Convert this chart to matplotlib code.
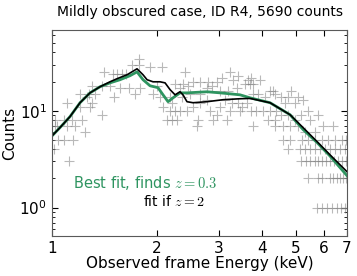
import matplotlib
matplotlib.use("Agg")
import matplotlib.pyplot as plt
from matplotlib.ticker import FixedLocator, FixedFormatter, NullFormatter

plt.rcParams['mathtext.fontset'] = 'cm'

# observed counts per channel (energy in keV, counts)
energia = [
    1.013, 1.020, 1.034, 1.020, 1.040, 1.082, 1.149, 1.082, 1.141, 1.219,
    1.104, 1.164, 1.243, 1.119, 1.104, 1.203, 1.285, 1.203, 1.276, 1.328,
    1.260, 1.302, 1.391, 1.302, 1.391, 1.466, 1.505, 1.409, 1.495, 1.535,
    1.586, 1.630, 1.566, 1.662, 1.729, 1.787, 1.695, 1.775, 1.775,
    1.909, 2.067, 2.405, 2.535, 2.655, 2.799, 3.236, 3.412, 3.301, 3.069,
    2.970, 2.373, 2.453, 2.326, 2.252, 2.485, 2.655, 2.781, 2.874, 3.029,
    3.193, 3.389, 3.573, 3.644, 2.000, 1.947, 2.039, 2.179, 2.358, 2.208,
    2.080, 2.252, 2.326, 2.179, 2.208, 2.136, 2.282, 2.436, 2.535, 2.655,
    2.836, 2.970, 2.893, 2.620, 2.603, 3.172, 3.029, 3.279, 3.412, 3.503,
    3.457, 3.236, 3.620, 3.130, 2.781,
    3.717, 3.945, 3.692, 3.766, 4.213, 4.297, 4.355, 4.840, 4.745, 5.068,
    5.239, 4.530, 4.651, 4.969, 3.766, 3.893, 4.077, 3.717, 3.841, 4.024,
    4.213, 4.383, 4.158, 4.355, 4.530, 4.745, 4.969, 5.169, 3.766, 4.355,
    4.590, 4.808, 5.068, 5.413, 5.485, 5.783, 5.307, 5.670, 5.977, 6.385,
]
cuentas = [
    4, 7, 7, 8, 5, 5, 5, 8, 8, 8,
    7, 7, 6, 3, 12, 11, 11, 15, 15, 15,
    14, 12, 9, 18, 18, 18, 14, 25, 24, 24,
    24, 24, 17, 17, 15, 17, 30, 30, 34,
    28, 28, 25, 20, 20, 20, 25, 23, 21, 22,
    20, 19, 18, 17, 19, 15, 15, 17, 18, 16,
    16, 17, 19, 21, 18, 15, 14, 14, 14, 12,
    11, 10, 10, 10, 8, 8, 8, 10, 11, 12,
    10, 9, 8, 8, 7, 8, 11, 12, 12, 11,
    10, 10, 12, 13, 13,
    22, 21, 19, 19, 16, 16, 15, 16, 14, 14,
    13, 14, 12, 12, 15, 15, 14, 10, 10, 10,
    10, 10, 8, 8, 9, 9, 8, 9, 7, 7,
    7, 7, 7, 10, 8, 9, 6, 6, 7, 7,
]

# low-count rows at the high energy end
e5 = [4.590, 4.808, 5.203, 5.413, 5.670, 5.937, 6.177, 6.470, 6.774, 6.956]
e4 = [4.745, 5.135, 5.307, 5.485, 5.670, 5.860, 6.056, 6.259, 6.470, 6.686, 6.910]
e3 = [5.169, 5.343, 5.485, 5.670, 5.783, 5.937, 6.096, 6.259, 6.427, 6.599, 6.774, 6.956]
e2 = [5.413, 5.783, 5.937, 6.259, 6.385, 6.555, 6.686, 6.819, 6.956]
e1 = [5.745, 5.937, 6.137, 6.343, 6.555, 6.730, 6.910, 6.980]
for e, c in [(e5, 5), (e4, 4), (e3, 3), (e2, 2), (e1, 1)]:
    energia += e
    cuentas += [c] * len(e)

# model: fit if z = 2 (black)
e_z2 = [1.0, 1.054, 1.126, 1.203, 1.285, 1.373, 1.466, 1.535, 1.640, 1.752,
        1.823, 1.872, 1.947, 2.039, 2.108, 2.179, 2.252, 2.326, 2.373, 2.436,
        2.535, 2.781, 3.090, 3.457, 3.692, 4.213, 4.808, 5.239, 5.745, 6.261, 7.0]
c_z2 = [5.5, 6.7, 8.7, 12.1, 15.3, 17.7, 19.9, 21.4, 23.5, 27.1,
        23.5, 20.9, 19.9, 19.9, 19.4, 16.5, 14.6, 15.7, 14.6, 12.4,
        12.1, 12.4, 13.0, 13.3, 13.4, 12.1, 9.1, 6.7, 4.8, 3.5, 2.35]

# model: best fit, z = 0.3 (green)
e_best = [1.0, 1.054, 1.126, 1.203, 1.285, 1.373, 1.466, 1.566, 1.673, 1.752,
          1.823, 1.909, 2.012, 2.080, 2.150, 2.222, 2.326, 2.436, 2.781, 3.029,
          3.457, 3.692, 4.213, 4.808, 5.239, 5.745, 6.261, 7.0]
c_best = [5.5, 6.7, 8.7, 12.1, 15.3, 17.7, 19.4, 20.9, 23.0, 25.2,
          20.9, 18.1, 17.3, 14.6, 12.4, 13.6, 15.3, 15.3, 15.7, 15.3,
          14.6, 13.6, 12.1, 9.1, 6.4, 4.7, 3.4, 2.14]

verde = '#2e9460'

fig = plt.figure(figsize=(3.57, 2.76), dpi=100)
ax = fig.add_axes([0.1457, 0.145, 0.8263, 0.746])

ax.plot(energia, cuentas, '+', color='gray', alpha=0.55, markersize=6.5, mew=0.8)
ax.plot(e_best, c_best, '-', color=verde, lw=2.0)
ax.plot(e_z2, c_z2, '-', color='black', lw=1.2)

ax.set_xscale('log')
ax.set_yscale('log')
ax.set_xlim(1, 7)
ax.set_ylim(0.51, 68)

ax.xaxis.set_major_locator(FixedLocator([1, 2, 3, 4, 5, 6, 7]))
ax.xaxis.set_major_formatter(FixedFormatter(['1', '2', '3', '4', '5', '6', '7']))
ax.xaxis.set_minor_formatter(NullFormatter())
ax.xaxis.set_minor_locator(FixedLocator([]))

ax.tick_params(which='both', direction='in', top=True, right=True, labelsize=11)
ax.tick_params(which='major', length=4)
ax.tick_params(which='minor', length=2)
for s in ax.spines.values():
    s.set_color('0.35')

ax.text(1.149, 1.81, 'Best fit, finds $z=0.3$', color=verde, fontsize=10.5, va='center')
ax.text(1.823, 1.15, 'fit if $z=2$', color='black', fontsize=10, va='center')

ax.set_title('Mildly obscured case, ID R4, 5690 counts', fontsize=10, pad=10)
ax.set_xlabel('Observed frame Energy (keV)', fontsize=11, labelpad=0)
ax.set_ylabel('Counts', fontsize=11, labelpad=2)

fig.savefig('out.png', dpi=100)
